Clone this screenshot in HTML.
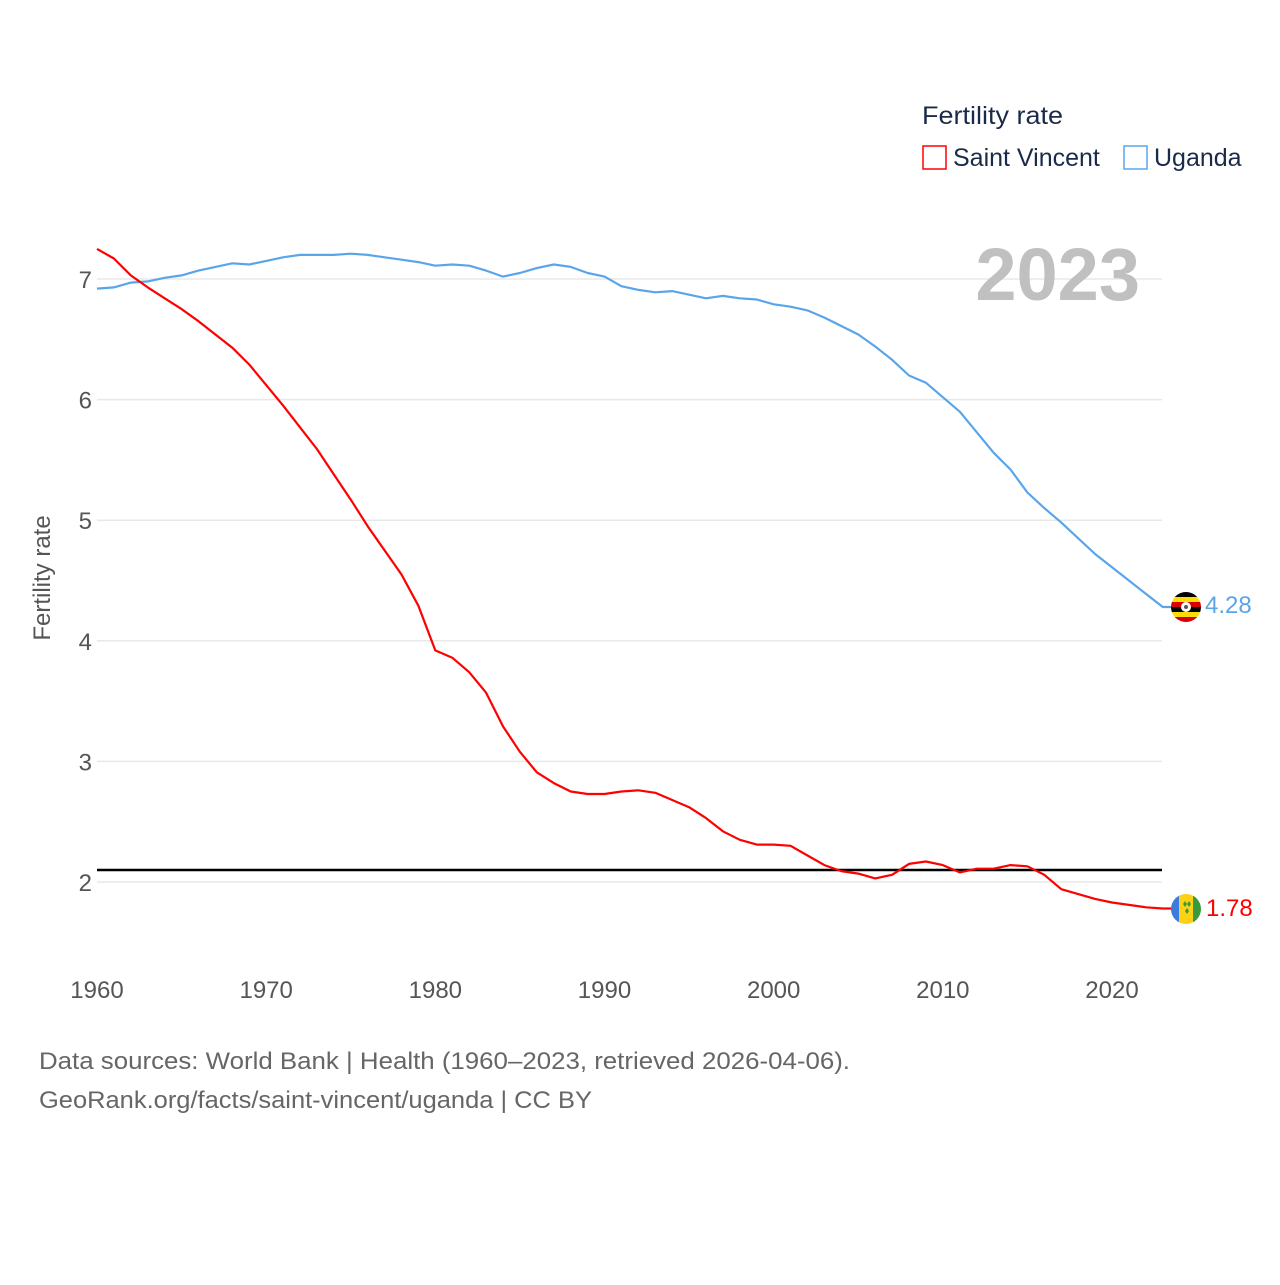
<!DOCTYPE html>
<html><head><meta charset="utf-8">
<style>
body{margin:0;background:#fff;width:1280px;height:1280px;overflow:hidden;font-family:"Liberation Sans",sans-serif;}
svg text{font-family:"Liberation Sans",sans-serif;}
</style></head>
<body>
<svg id="chart" width="1280" height="1280" viewBox="0 0 1280 1280" xmlns="http://www.w3.org/2000/svg">
<g id="grid"></g>
<g id="yticks"></g>
<g id="xticks"></g>
<text x="1140" y="300" text-anchor="end" font-size="74" font-weight="bold" fill="#c0c0c0">2023</text>
<text transform="translate(50,578) rotate(-90)" text-anchor="middle" font-size="24" fill="#555">Fertility rate</text>
<g id="series"></g>
<g>
<text x="922" y="124" font-size="25" fill="#1a2b4a" textLength="141" lengthAdjust="spacingAndGlyphs">Fertility rate</text>
<rect x="923" y="146" width="23" height="23" fill="none" stroke="#ff0000" stroke-width="1.5"/>
<text x="953" y="166" font-size="25" fill="#1a2b4a">Saint Vincent</text>
<rect x="1124" y="146" width="23" height="23" fill="none" stroke="#5aa5ea" stroke-width="1.5"/>
<text x="1154" y="166" font-size="25" fill="#1a2b4a">Uganda</text>
</g>
<g>
<clipPath id="cu"><circle cx="1186" cy="607" r="15"/></clipPath>
<g clip-path="url(#cu)">
<rect x="1170" y="592" width="32" height="5" fill="#000"/><rect x="1170" y="597" width="32" height="5" fill="#fcdc04"/>
<rect x="1170" y="602" width="32" height="5" fill="#d90000"/><rect x="1170" y="607" width="32" height="5" fill="#000"/>
<rect x="1170" y="612" width="32" height="5" fill="#fcdc04"/><rect x="1170" y="617" width="32" height="6" fill="#d90000"/>
<circle cx="1186" cy="607" r="5" fill="#fff"/><circle cx="1186" cy="607" r="2" fill="#555"/>
</g></g>
<g>
<clipPath id="cv"><circle cx="1186" cy="909" r="15"/></clipPath>
<g clip-path="url(#cv)">
<rect x="1170" y="893" width="9" height="32" fill="#3a7dde"/><rect x="1179" y="893" width="14" height="32" fill="#fcd116"/><rect x="1193" y="893" width="10" height="32" fill="#3a9a3a"/>
<path d="M1183 904l2-3 2 3-2 3zM1187 904l2-3 2 3-2 3zM1185 911l2-3 2 3-2 3z" fill="#3a9a3a"/>
</g></g>
<text x="1205" y="613" font-size="24" fill="#5aa5ea">4.28</text>
<text x="1206" y="916" font-size="24" fill="#ff0000">1.78</text>
<text x="39" y="1069" font-size="24" fill="#666" textLength="811" lengthAdjust="spacingAndGlyphs">Data sources: World Bank | Health (1960–2023, retrieved 2026-04-06).</text>
<text x="39" y="1108" font-size="24" fill="#666" textLength="553" lengthAdjust="spacingAndGlyphs">GeoRank.org/facts/saint-vincent/uganda | CC BY</text>
</svg>
<script>
const years = [];
for (let y = 1960; y <= 2023; y++) years.push(y);
const saintVincent = [7.25,7.17,7.03,6.93,6.84,6.75,6.65,6.54,6.43,6.29,6.12,5.95,5.77,5.59,5.38,5.17,4.95,4.75,4.55,4.29,3.92,3.86,3.74,3.57,3.29,3.08,2.91,2.82,2.75,2.73,2.73,2.75,2.76,2.74,2.68,2.62,2.53,2.42,2.35,2.31,2.31,2.30,2.22,2.14,2.09,2.07,2.03,2.06,2.15,2.17,2.14,2.08,2.11,2.11,2.14,2.13,2.06,1.94,1.90,1.86,1.83,1.81,1.79,1.78];
const uganda = [6.92,6.93,6.97,6.98,7.01,7.03,7.07,7.10,7.13,7.12,7.15,7.18,7.20,7.20,7.20,7.21,7.20,7.18,7.16,7.14,7.11,7.12,7.11,7.07,7.02,7.05,7.09,7.12,7.10,7.05,7.02,6.94,6.91,6.89,6.90,6.87,6.84,6.86,6.84,6.83,6.79,6.77,6.74,6.68,6.61,6.54,6.44,6.33,6.20,6.14,6.02,5.90,5.73,5.56,5.42,5.23,5.10,4.98,4.85,4.72,4.61,4.50,4.39,4.28];
const yTicks = [2,3,4,5,6,7];
const xTicks = [1960,1970,1980,1990,2000,2010,2020];
const replacementLevel = [2.1];

const NS = "http://www.w3.org/2000/svg";
const xS = v => 97 + (v - 1960) * (1015 / 60);
const yS = v => 882 - (v - 2) * (603 / 5);
const X0 = 97, X1 = 1162;

const grid = document.getElementById('grid');
const yt = document.getElementById('yticks');
yTicks.forEach(t => {
  const l = document.createElementNS(NS, 'line');
  
  
  l.setAttribute('x1', X0); l.setAttribute('x2', X1);
  l.setAttribute('y1', yS(t)); l.setAttribute('y2', yS(t));
  l.setAttribute('stroke', '#e8e8e8'); l.setAttribute('stroke-width', '1.5');
  grid.appendChild(l);
  const tx = document.createElementNS(NS, 'text');
  
  
  tx.setAttribute('x', 92); tx.setAttribute('y', yS(t) + 9);
  tx.setAttribute('text-anchor', 'end'); tx.setAttribute('font-size', '24'); tx.setAttribute('fill', '#555');
  tx.textContent = t;
  yt.appendChild(tx);
});
const xt = document.getElementById('xticks');
xTicks.forEach(t => {
  const tx = document.createElementNS(NS, 'text');
  
  
  tx.setAttribute('x', xS(t)); tx.setAttribute('y', 998);
  tx.setAttribute('text-anchor', 'middle'); tx.setAttribute('font-size', '24'); tx.setAttribute('fill', '#555');
  tx.textContent = t;
  xt.appendChild(tx);
});
const series = document.getElementById('series');
replacementLevel.forEach(v => {
  const l = document.createElementNS(NS, 'line');
  
  
  l.setAttribute('x1', X0); l.setAttribute('x2', X1);
  l.setAttribute('y1', yS(v)); l.setAttribute('y2', yS(v));
  l.setAttribute('stroke', '#000'); l.setAttribute('stroke-width', '2.5');
  series.appendChild(l);
});
function drawLine(vals, color, name) {
  const p = document.createElementNS(NS, 'polyline');
  
  
  const pts = vals.map((v, i) => xS(years[i]).toFixed(1) + ',' + yS(v).toFixed(1));
  const last = vals[vals.length - 1];
  pts.push('1172,' + yS(last).toFixed(1));
  p.setAttribute('points', pts.join(' '));
  p.setAttribute('fill', 'none'); p.setAttribute('stroke', color); p.setAttribute('stroke-width', '2.2');
  p.setAttribute('stroke-linejoin', 'round');
  series.appendChild(p);
}
drawLine(uganda, '#5aa5ea', 'line-uganda');
drawLine(saintVincent, '#ff0000', 'line-saint-vincent');
</script>
</body></html>
